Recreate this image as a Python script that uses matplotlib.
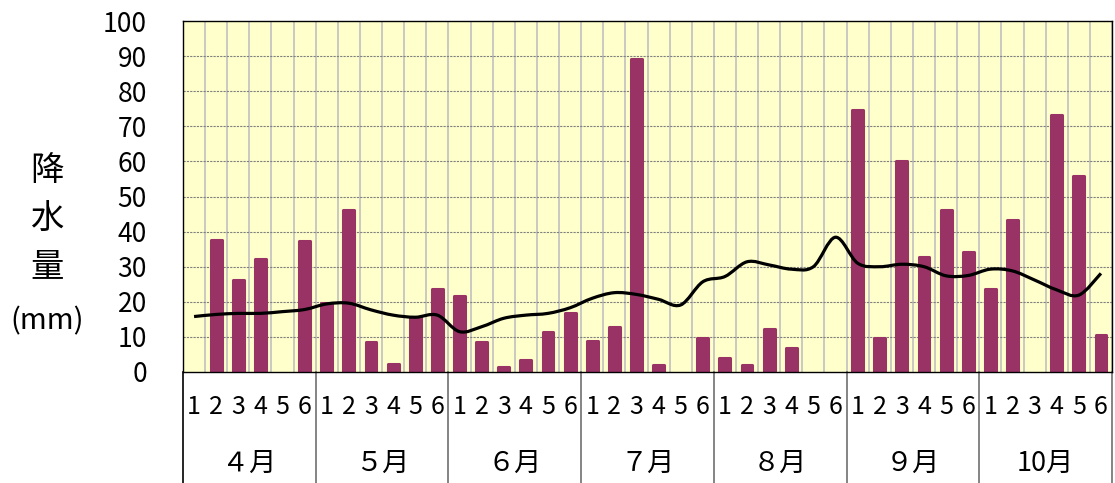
import numpy as np
import matplotlib.pyplot as plt
from matplotlib.path import Path
from matplotlib.patches import PathPatch

plt.rcParams['font.family'] = ['Noto Sans CJK JP', 'DejaVu Sans']

months = ['４月', '５月', '６月', '７月', '８月', '９月', '10月']
days = ['1', '2', '3', '4', '5', '6']

# precipitation per half-month period (mm)
rain = [0, 37.6, 26.2, 32.3, 0, 37.3,
        19.6, 46.2, 8.6, 2.3, 15.8, 23.7,
        21.7, 8.6, 1.3, 3.4, 11.3, 16.9,
        8.8, 12.9, 89.1, 1.9, 0, 9.8,
        3.9, 1.9, 12.2, 6.7, 0, 0,
        74.6, 9.8, 60.2, 32.7, 46.2, 34.3,
        23.7, 43.2, 0, 73.1, 55.7, 10.4]

# normal values (line)
normal = [15.8, 16.4, 16.7, 16.7, 17.2, 17.8,
          19.4, 19.6, 17.7, 16.2, 15.6, 16.2,
          11.5, 12.9, 15.3, 16.2, 16.7, 18.3,
          21.0, 22.6, 22.1, 20.7, 19.1, 25.7,
          27.2, 31.4, 30.5, 29.3, 30.0, 38.4,
          31.0, 30.0, 30.7, 30.0, 27.4, 27.5,
          29.3, 28.8, 26.2, 23.4, 21.9, 28.1]

n = len(rain)
x = np.arange(n)

fig = plt.figure(figsize=(11.15, 4.83), dpi=100)
ax = fig.add_axes([183 / 1115, 111 / 483, 929 / 1115, 351 / 483])
ax.set_facecolor('#FFFFCC')

# thick round-joined edge gives the slightly rounded bar tops
bars = ax.bar(x, rain, width=0.49, color='#993366', edgecolor='#993366',
              linewidth=2.2, zorder=3)
for b, v in zip(bars, rain):
    b.set_joinstyle('round')
    if v == 0:
        b.set_linewidth(0)

# smoothed line (Catmull-Rom style bezier)
pts = np.column_stack([x, normal]).astype(float)
verts = [tuple(pts[0])]
codes = [Path.MOVETO]
for i in range(n - 1):
    p0 = pts[i - 1] if i > 0 else pts[i]
    p1 = pts[i]
    p2 = pts[i + 1]
    p3 = pts[i + 2] if i + 2 < n else pts[i + 1]
    c1 = p1 + (p2 - p0) / 6
    c2 = p2 - (p3 - p1) / 6
    verts += [tuple(c1), tuple(c2), tuple(p2)]
    codes += [Path.CURVE4] * 3
ax.add_patch(PathPatch(Path(verts, codes), fill=False, lw=2.3, color='black', zorder=4))

ax.set_xlim(-0.5, n - 0.5)
ax.set_ylim(0, 100)

# grid
for b in np.arange(n + 1) - 0.5:
    ax.axvline(b, color='#c0c0c0', lw=1.2, zorder=1)
for v in range(10, 100, 10):
    ax.axhline(v, color='#808080', lw=0.8, ls=(0, (2, 1)), zorder=1)

ax.set_yticks(range(0, 101, 10))
ax.tick_params(axis='y', length=0, pad=26, labelsize=19)
ax.set_xticks([])
for s in ax.spines.values():
    s.set_color('black')
    s.set_linewidth(1)
    s.set_zorder(5)

# category labels below the axis
tr = ax.get_xaxis_transform()
for i in range(n):
    ax.text(i, -35 / 351, days[i % 6], transform=tr, ha='center', va='center', fontsize=18)
for m, name in enumerate(months):
    ax.text(m * 6 + 2.5, -91 / 351, name, transform=tr, ha='center', va='center', fontsize=19.5)
for m in range(len(months) + 1):
    b = m * 6 - 0.5
    ax.plot([b, b], [0, -0.32], transform=tr, clip_on=False,
            color='black' if m == 0 else '#707070', lw=1.2)

# stacked y label
ylab = ['降', '水', '量']
ylab_y = [170, 219, 267]
for ch, yy in zip(ylab, ylab_y):
    fig.text(47 / 1115, 1 - yy / 483, ch, ha='center', va='center', fontsize=24)
fig.text(47 / 1115, 1 - 321 / 483, '(mm)', ha='center', va='center', fontsize=21)

fig.savefig('out.png', dpi=100)
